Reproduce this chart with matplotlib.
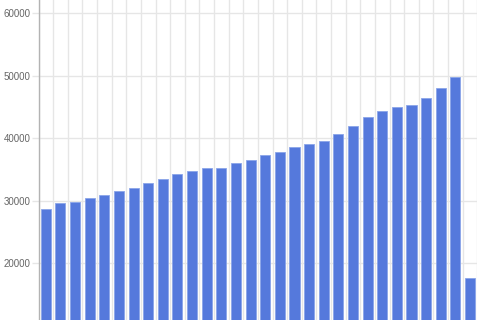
import matplotlib
matplotlib.use("Agg")
import matplotlib.pyplot as plt
from matplotlib.ticker import FixedLocator, NullFormatter

categories = [f"C{i+1}" for i in range(30)]
values = [28740, 29600, 29860, 30450, 30930, 31570, 32000, 32850, 33490, 34240,
          34770, 35200, 35220, 36050, 36530, 37280, 37860, 38560, 39140, 39570,
          40690, 42020, 43360, 44370, 45000, 45380, 46400, 48100, 49760, 17600]
yticks = [20000, 30000, 40000, 50000, 60000]

plt.rcParams['font.family'] = ['Liberation Sans', 'DejaVu Sans']
fig = plt.figure(figsize=(4.8, 3.2), dpi=100)
ax = fig.add_axes([38.5/480, 0, (477.3-38.5)/480, 1])

x = list(range(len(categories)))
ax.bar(x, values, width=0.69, color='#5579dc', edgecolor='#8aa5e9', linewidth=0.6, zorder=3)

ax.set_xlim(-0.5, len(categories)-0.5)
ax.set_ylim(10930, 62130)
ax.set_yticks(yticks)
ax.set_yticklabels([str(v) for v in yticks])
ax.xaxis.set_major_locator(FixedLocator([i + 0.5 for i in range(-1, len(categories))]))
ax.xaxis.set_major_formatter(NullFormatter())
ax.tick_params(axis='x', length=0)
ax.tick_params(axis='y', length=5.4, color='#e6e6e6', width=1, labelsize=7, labelcolor='#666666', pad=0.5)
ax.grid(True, color='#e6e6e6', linewidth=1, zorder=0)
for s in ['top', 'bottom']:
    ax.spines[s].set_visible(False)
ax.spines['right'].set_visible(False)
ax.spines['left'].set_color('#b3b3b3')
ax.spines['left'].set_linewidth(1)
ax.set_axisbelow(True)

fig.savefig('out.png', dpi=100)
